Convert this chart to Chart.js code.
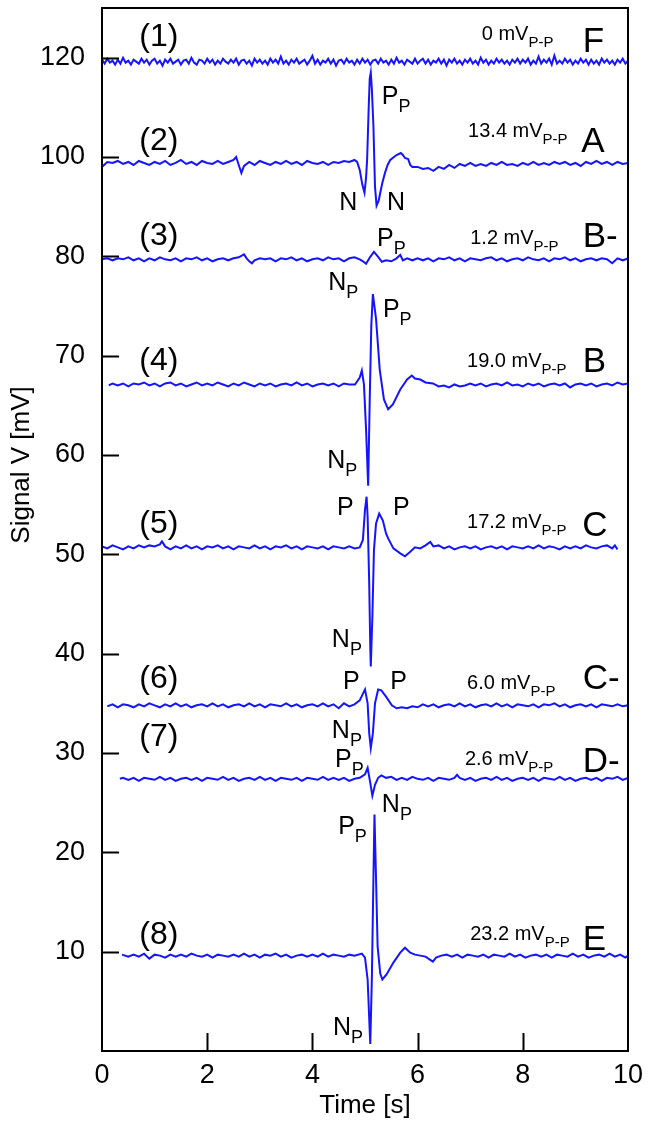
<!DOCTYPE html>
<html>
<head>
<meta charset="utf-8">
<script src="https://cdn.jsdelivr.net/npm/chart.js@4.4.1/dist/chart.umd.min.js"></script>
<style>
  html, body { margin: 0; padding: 0; background: #fff; }
  #wrap { width: 650px; height: 1131px; }
</style>
</head>
<body>
<div id="wrap"><canvas id="chart" width="650" height="1131"></canvas></div>
<script>
// y axis: stacked traces, ticks evenly spaced but labelled like the original figure
const tickPos = [10, 20, 30, 40, 50, 60, 70, 80, 90, 100];
const tickLabels = ['10', '20', '30', '40', '50', '60', '70', '80', '100', '120'];

// display offset of each trace (mV on the stacked axis)
const offsets = [99.6, 89.4, 79.7, 67.1, 50.7, 34.8, 27.4, 9.6];

// signal of each trace relative to its baseline: [time s, mV]
const trace1 = [[0,.2],[.05,-.2],[.1,.3],[.15,-.1],[.2,.1],[.25,-.3],[.3,.2],[.35,-.2],[.4,.4],[.45,-.1],[.5,.1],[.55,-.3],[.6,.2],[.65,0],[.7,-.2],[.75,.3],[.8,-.1],[.85,.2],[.9,-.3],[.95,.1],
[1,.3],[1.05,-.2],[1.1,.1],[1.15,-.4],[1.2,.2],[1.25,-.1],[1.3,.3],[1.35,-.2],[1.4,0],[1.45,.2],[1.5,-.3],[1.55,.1],[1.6,.2],[1.65,-.2],[1.7,.4],[1.75,-.1],[1.8,-.3],[1.85,.2],[1.9,.1],[1.95,-.2],
[2,.3],[2.05,-.1],[2.1,.2],[2.15,-.3],[2.2,.1],[2.25,-.2],[2.3,.3],[2.35,0],[2.4,-.2],[2.45,.2],[2.5,-.1],[2.55,.3],[2.6,-.3],[2.65,.1],[2.7,.2],[2.75,-.2],[2.8,.1],[2.85,-.4],[2.9,.3],[2.95,-.1],
[3,.2],[3.05,-.2],[3.1,.1],[3.15,-.3],[3.2,.3],[3.25,-.1],[3.3,.2],[3.35,-.2],[3.4,.5],[3.45,-.2],[3.5,.1],[3.55,-.3],[3.6,.2],[3.65,-.1],[3.7,.3],[3.75,-.2],[3.8,0],[3.85,.2],[3.9,-.3],[3.95,.1],
[4,.6],[4.05,-.2],[4.1,.2],[4.15,-.3],[4.2,.1],[4.25,-.1],[4.3,.3],[4.35,-.2],[4.4,.2],[4.45,-.4],[4.5,.1],[4.55,.2],[4.6,-.2],[4.65,.3],[4.7,-.1],[4.75,.1],[4.8,-.3],[4.85,.2],[4.9,-.2],[4.95,.3],
[5,-.1],[5.05,.2],[5.1,-.3],[5.15,.1],[5.2,.2],[5.25,-.2],[5.3,.3],[5.35,-.1],[5.4,.1],[5.45,-.3],[5.5,.2],[5.55,-.2],[5.6,.4],[5.65,-.1],[5.7,.1],[5.75,-.3],[5.8,.2],[5.85,0],[5.9,-.2],[5.95,.3],
[6,-.2],[6.05,.1],[6.1,.3],[6.15,-.2],[6.2,.2],[6.25,-.3],[6.3,.1],[6.35,-.1],[6.4,.3],[6.45,-.2],[6.5,.2],[6.55,-.4],[6.6,.2],[6.65,-.1],[6.7,.3],[6.75,-.2],[6.8,.1],[6.85,-.3],[6.9,.2],[6.95,-.1],
[7,.3],[7.05,-.2],[7.1,.1],[7.15,-.3],[7.2,.4],[7.25,-.1],[7.3,.2],[7.35,-.3],[7.4,.1],[7.45,-.2],[7.5,.3],[7.55,-.1],[7.6,.2],[7.65,-.2],[7.7,.1],[7.75,-.3],[7.8,.2],[7.85,-.1],[7.9,.3],[7.95,-.2],
[8,.2],[8.05,-.1],[8.1,.3],[8.15,-.3],[8.2,.1],[8.25,-.2],[8.3,.5],[8.35,-.2],[8.4,.2],[8.45,-.1],[8.5,.3],[8.55,-.3],[8.6,.6],[8.65,-.2],[8.7,.1],[8.75,-.2],[8.8,.3],[8.85,-.1],[8.9,.2],[8.95,-.3],
[9,.1],[9.05,-.2],[9.1,.3],[9.15,-.1],[9.2,.2],[9.25,-.3],[9.3,.2],[9.35,-.2],[9.4,.1],[9.45,-.3],[9.5,.3],[9.55,-.1],[9.6,.2],[9.65,-.2],[9.7,.1],[9.75,-.3],[9.8,.2],[9.85,-.1],[9.9,.3],[9.95,-.2],[10,.1]];
const trace2 = [[0,-.4],[.1,.1],[.2,0],[.3,.2],[.4,-.1],[.5,.1],[.6,-.2],[.7,.2],[.8,0],[.9,-.2],[1,.1],[1.1,-.1],[1.2,.2],[1.3,-.2],[1.4,0],[1.5,.3],[1.6,-.1],[1.7,.1],[1.8,-.2],[1.9,.2],[2,0],[2.1,-.1],[2.2,.2],[2.3,-.1],[2.4,.1],[2.5,.3],[2.55,.6],[2.6,-.2],[2.65,-1.0],[2.7,-.3],[2.8,.1],[2.9,-.2],[3,.2],[3.1,0],[3.2,-.2],[3.3,.1],[3.4,-.1],[3.5,.2],[3.6,-.1],[3.7,.1],[3.8,-.2],[3.9,.2],[4,0],[4.1,-.1],[4.2,.1],[4.3,-.2],[4.4,.1],[4.5,0],[4.6,.2],[4.7,.1],[4.8,.3],[4.85,.1],[4.9,-.7],[4.95,-2.2],[4.99,-3.0],[5.02,-1.5],[5.04,.3],[5.07,5.5],[5.09,8.5],[5.11,9.1],[5.13,7.5],[5.16,3.7],[5.19,-2.4],[5.22,-4.3],[5.26,-3.8],[5.29,-3.0],[5.33,-2.0],[5.38,-1.0],[5.43,-.2],[5.48,.3],[5.55,.6],[5.6,.8],[5.68,1.0],[5.72,.8],[5.76,.5],[5.82,.4],[5.86,-.2],[5.9,-.4],[6,-.4],[6.1,-.6],[6.2,-.5],[6.3,-.8],[6.4,-.4],[6.5,-.6],[6.6,-.2],[6.7,-.5],[6.8,-.1],[6.9,-.3],[7,0],[7.1,-.3],[7.2,-.1],[7.3,-.3],[7.4,0],[7.5,-.2],[7.6,.1],[7.7,-.2],[7.8,-.1],[7.9,-.3],[8,0],[8.1,-.2],[8.2,.1],[8.3,-.2],[8.4,0],[8.5,-.2],[8.6,.1],[8.7,-.1],[8.8,.1],[8.9,-.2],[9,0],[9.1,-.3],[9.2,.1],[9.3,-.1],[9.4,.2],[9.5,-.1],[9.6,.1],[9.7,-.2],[9.8,.1],[9.9,-.1],[10,0]];
const trace3 = [[0,0],[.1,.1],[.2,-.1],[.3,.1],[.4,0],[.5,.2],[.6,-.1],[.7,.1],[.8,-.2],[.9,.1],[1,-.1],[1.1,.2],[1.2,0],[1.3,-.1],[1.4,.1],[1.5,-.2],[1.6,.1],[1.7,0],[1.8,.2],[1.9,-.1],[2,.1],[2.1,-.2],[2.2,0],[2.3,.1],[2.4,-.1],[2.5,.1],[2.6,.2],[2.7,.5],[2.75,.1],[2.8,-.2],[2.85,-.4],[2.9,-.1],[3,.1],[3.1,0],[3.2,.1],[3.3,-.2],[3.4,.1],[3.5,0],[3.6,.2],[3.7,-.1],[3.8,.1],[3.9,-.2],[4,0],[4.1,.1],[4.2,-.1],[4.3,.2],[4.4,0],[4.5,.1],[4.6,-.2],[4.7,.1],[4.8,.2],[4.9,0],[4.96,-.2],[5.02,-.45],[5.1,.25],[5.17,.75],[5.25,.25],[5.32,-.25],[5.4,-.1],[5.5,-.2],[5.6,.1],[5.67,.45],[5.72,-.1],[5.8,.1],[5.9,-.1],[6,.1],[6.1,-.1],[6.2,.1],[6.3,-.2],[6.4,.1],[6.5,0],[6.6,.2],[6.7,-.1],[6.8,.1],[6.9,-.2],[7,.1],[7.1,0],[7.2,-.1],[7.3,.1],[7.4,.2],[7.5,-.1],[7.6,.1],[7.7,-.2],[7.8,0],[7.9,.1],[8,-.1],[8.1,.2],[8.2,0],[8.3,-.1],[8.4,.1],[8.5,-.2],[8.6,.1],[8.7,0],[8.8,.2],[8.9,-.1],[9,.1],[9.1,-.2],[9.2,0],[9.3,.1],[9.4,-.1],[9.5,.1],[9.6,0],[9.7,-.4],[9.8,.1],[9.9,-.1],[10,.1]];
const trace4 = [[.13,-.1],[.2,.1],[.3,-.1],[.4,.1],[.5,-.2],[.6,.1],[.7,0],[.8,.2],[.9,-.1],[1,.1],[1.1,-.2],[1.2,.1],[1.3,.2],[1.4,-.1],[1.5,.1],[1.6,-.2],[1.7,0],[1.8,.2],[1.9,-.1],[2,.1],[2.1,-.1],[2.2,.2],[2.3,0],[2.4,-.2],[2.5,.1],[2.6,-.1],[2.7,.2],[2.8,0],[2.9,-.2],[3,.1],[3.1,-.1],[3.2,.1],[3.3,-.2],[3.4,0],[3.5,.1],[3.6,-.1],[3.7,.2],[3.8,-.1],[3.9,.1],[4,-.2],[4.1,0],[4.2,.1],[4.3,-.1],[4.4,.1],[4.5,-.2],[4.6,.1],[4.7,0],[4.81,0],[4.9,.7],[4.94,1.4],[4.98,0],[5.02,-4.5],[5.06,-10.2],[5.09,-1.5],[5.12,6],[5.15,9.1],[5.21,6.6],[5.28,1.5],[5.36,-1.5],[5.44,-2.5],[5.53,-2.0],[5.67,-.5],[5.8,.5],[5.89,.9],[5.95,.6],[6.05,.5],[6.15,.2],[6.29,.1],[6.4,-.2],[6.5,-.1],[6.6,-.3],[6.7,0],[6.8,-.2],[6.9,-.1],[7,.1],[7.1,-.1],[7.2,.1],[7.3,-.2],[7.4,0],[7.5,.1],[7.6,-.1],[7.7,.2],[7.8,-.1],[7.9,0],[8,-.2],[8.1,.1],[8.2,-.1],[8.3,.1],[8.4,-.2],[8.5,0],[8.6,.1],[8.7,-.1],[8.8,.1],[8.9,-.3],[9,0],[9.1,.1],[9.2,-.1],[9.3,.1],[9.4,-.2],[9.5,0],[9.6,.1],[9.7,-.1],[9.8,.2],[9.9,0],[10,.1]];
const trace5 = [[0,.1],[.1,-.1],[.2,.2],[.3,0],[.4,-.2],[.5,.1],[.6,-.1],[.7,.2],[.8,0],[.9,.2],[1,.1],[1.1,.3],[1.14,.6],[1.2,.1],[1.3,-.2],[1.4,.1],[1.5,-.1],[1.6,.2],[1.7,-.1],[1.8,.1],[1.9,-.2],[2,.1],[2.1,0],[2.2,.2],[2.3,-.1],[2.4,.1],[2.5,-.2],[2.6,.1],[2.7,0],[2.8,-.1],[2.9,.2],[3,-.1],[3.1,.1],[3.2,-.2],[3.3,.1],[3.4,0],[3.5,.2],[3.6,-.1],[3.7,.1],[3.8,-.2],[3.9,.1],[4,0],[4.1,-.1],[4.2,.1],[4.3,-.2],[4.4,.1],[4.5,0],[4.6,-.1],[4.7,.1],[4.8,-.1],[4.9,0],[4.96,.75],[5,3.8],[5.03,5.1],[5.05,3.1],[5.08,-3.6],[5.1,-10],[5.11,-12],[5.14,-7],[5.17,-.3],[5.21,2.4],[5.27,3.4],[5.34,2.7],[5.4,1.4],[5.44,.9],[5.54,-.1],[5.67,-.6],[5.76,-.9],[5.86,-.45],[5.95,0],[6.05,-.1],[6.15,.2],[6.24,.55],[6.3,.1],[6.4,.2],[6.5,-.1],[6.6,.1],[6.7,-.2],[6.8,0],[6.9,.1],[7,-.1],[7.1,.1],[7.2,-.2],[7.3,0],[7.4,.1],[7.5,-.1],[7.6,.1],[7.7,-.2],[7.8,.1],[7.9,0],[8,-.1],[8.1,.1],[8.2,-.1],[8.3,.2],[8.4,-.1],[8.5,.1],[8.6,0],[8.7,-.2],[8.8,.1],[8.9,-.1],[9,.1],[9.1,-.1],[9.2,.2],[9.3,0],[9.4,-.1],[9.5,.1],[9.6,.2],[9.7,-.1],[9.75,.2],[9.8,-.2]];
const trace6 = [[.1,-.1],[.2,.1],[.3,-.2],[.4,.1],[.5,0],[.6,-.2],[.7,.1],[.8,-.1],[.9,.2],[1,0],[1.1,-.2],[1.2,.1],[1.3,-.1],[1.4,.2],[1.5,-.1],[1.6,.1],[1.7,-.2],[1.8,0],[1.9,.1],[2,-.1],[2.1,.2],[2.2,-.1],[2.3,.1],[2.4,-.2],[2.5,0],[2.6,.1],[2.7,-.1],[2.8,.2],[2.9,-.1],[3,.1],[3.1,-.2],[3.2,.1],[3.3,0],[3.4,-.1],[3.5,.2],[3.6,-.1],[3.7,.1],[3.8,-.2],[3.9,0],[4,.1],[4.1,-.1],[4.2,.2],[4.3,-.1],[4.4,.1],[4.5,-.3],[4.6,.2],[4.7,-.1],[4.8,.1],[4.9,.5],[5,1.6],[5.05,.2],[5.08,-2.8],[5.11,-4.3],[5.15,-2.8],[5.19,.2],[5.25,1.6],[5.31,1.5],[5.41,.8],[5.51,0],[5.6,-.3],[5.7,-.2],[5.8,-.3],[5.9,-.1],[6,-.2],[6.1,.1],[6.2,-.1],[6.3,.1],[6.4,-.2],[6.5,0],[6.6,.1],[6.7,-.1],[6.8,.2],[6.9,-.1],[7,.1],[7.1,-.2],[7.2,0],[7.3,.1],[7.4,-.1],[7.5,.2],[7.6,-.1],[7.7,.1],[7.8,-.2],[7.9,.1],[8,0],[8.1,-.1],[8.2,.1],[8.3,-.2],[8.4,.1],[8.5,0],[8.6,.2],[8.7,-.1],[8.8,.1],[8.9,-.2],[9,0],[9.1,.1],[9.2,-.1],[9.3,.1],[9.4,-.2],[9.5,.1],[9.6,0],[9.7,-.1],[9.8,.1],[9.9,-.1],[10,0]];
const trace7 = [[.34,0],[.4,.1],[.5,-.1],[.6,.1],[.7,-.2],[.8,.1],[.9,0],[1,-.1],[1.1,.2],[1.2,-.1],[1.3,.1],[1.4,-.2],[1.5,0],[1.6,.1],[1.7,-.1],[1.8,.1],[1.9,-.2],[2,.1],[2.1,0],[2.2,-.1],[2.3,.2],[2.4,-.1],[2.5,.1],[2.6,-.2],[2.7,0],[2.8,.1],[2.9,-.1],[3,.2],[3.1,-.1],[3.2,.1],[3.3,-.2],[3.4,.1],[3.5,0],[3.6,-.1],[3.7,.1],[3.8,-.2],[3.9,.1],[4,0],[4.1,-.1],[4.2,.2],[4.3,-.1],[4.4,.1],[4.5,-.1],[4.6,.1],[4.7,-.2],[4.8,0],[4.9,.1],[5,.45],[5.05,1.1],[5.1,-.4],[5.14,-1.7],[5.19,-.6],[5.25,.1],[5.31,.35],[5.4,.1],[5.5,.2],[5.6,-.1],[5.7,.1],[5.8,-.1],[5.9,.2],[6,0],[6.1,-.1],[6.2,.1],[6.3,-.2],[6.4,.1],[6.5,0],[6.6,-.1],[6.7,.1],[6.75,.4],[6.8,.1],[6.9,-.1],[7,.1],[7.1,-.2],[7.2,0],[7.3,.1],[7.4,-.1],[7.5,.2],[7.6,-.1],[7.7,.1],[7.8,-.2],[7.9,0],[8,.1],[8.1,-.1],[8.2,.1],[8.3,-.2],[8.4,.1],[8.5,0],[8.6,-.1],[8.7,.2],[8.8,-.1],[8.9,.1],[9,-.2],[9.1,0],[9.2,.1],[9.3,-.1],[9.4,.1],[9.5,-.2],[9.6,.1],[9.7,0],[9.8,.2],[9.9,-.1],[10,.1]];
const trace8 = [[.38,.1],[.5,-.1],[.6,.1],[.7,-.1],[.8,.2],[.9,-.3],[1,.1],[1.1,0],[1.2,-.2],[1.3,.1],[1.4,-.1],[1.5,.1],[1.6,-.1],[1.7,.2],[1.8,0],[1.9,-.1],[2,.1],[2.1,-.2],[2.2,.1],[2.3,0],[2.4,-.1],[2.5,.1],[2.6,-.1],[2.7,.2],[2.8,-.1],[2.9,.1],[3,-.2],[3.1,.1],[3.2,0],[3.3,.2],[3.4,-.1],[3.5,.1],[3.6,-.2],[3.7,0],[3.8,.1],[3.9,-.1],[4,.1],[4.1,-.1],[4.2,.2],[4.3,-.1],[4.4,.1],[4.5,0],[4.6,-.1],[4.7,.1],[4.8,0],[4.94,.2],[5,-.2],[5.05,-2.4],[5.1,-8.9],[5.13,-2.4],[5.16,7.7],[5.18,14.2],[5.21,7.7],[5.24,.9],[5.29,-1.8],[5.33,-2.4],[5.41,-1.9],[5.54,-.7],[5.67,.3],[5.76,.8],[5.86,.3],[5.95,.1],[6.05,0],[6.15,-.1],[6.29,-.6],[6.35,-.2],[6.45,0],[6.55,.1],[6.65,-.1],[6.75,.1],[6.85,-.2],[6.95,.1],[7.05,0],[7.15,-.1],[7.25,.1],[7.35,-.2],[7.45,.1],[7.55,0],[7.65,-.1],[7.75,.2],[7.85,-.1],[7.95,.1],[8.05,-.2],[8.15,0],[8.25,.1],[8.35,-.1],[8.45,.1],[8.55,-.2],[8.65,.1],[8.75,0],[8.85,-.1],[8.95,.2],[9.05,-.1],[9.15,.1],[9.25,-.2],[9.35,0],[9.45,.1],[9.55,-.1],[9.65,.2],[9.75,-.1],[9.85,.1],[9.95,-.2],[10,0]];
const traces = [trace1, trace2, trace3, trace4, trace5, trace6, trace7, trace8];

// annotations, anchored in data units [t, y]
const traceNames = ['(1)', '(2)', '(3)', '(4)', '(5)', '(6)', '(7)', '(8)'];
const traceNamePos = [[1.08,102.1],[1.08,91.6],[1.08,82.0],[1.08,69.4],[1.08,53.0],[1.08,37.4],[1.08,31.6],[1.08,11.7]];
const ppValues = ['0', '13.4', '1.2', '19.0', '17.2', '6.0', '2.6', '23.2'];
const ppPos = [[7.22,101.8],[6.96,92.0],[7.0,81.2],[6.94,68.9],[6.94,52.7],[6.94,36.4],[6.9,28.8],[7.0,11.2]];
const classNames = ['F', 'A', 'B-', 'B', 'C', 'C-', 'D-', 'E'];
const classPos = [[9.14,100.6],[9.11,90.5],[9.14,80.9],[9.14,68.4],[9.13,51.8],[9.14,36.4],[9.14,28.1],[9.14,10.2]];
const peakLabels = [
  ['P','P',5.32,95.3], ['N','',4.51,84.7], ['N','',5.42,84.7],
  ['P','P',5.23,81.0], ['N','P',4.30,76.6],
  ['P','P',5.34,73.9], ['N','P',4.28,58.7],
  ['P','',4.47,54.0], ['P','',5.53,54.0], ['N','P',4.37,40.7],
  ['P','',4.58,36.4], ['P','',5.48,36.4], ['N','P',4.37,31.5],
  ['P','P',4.43,28.6], ['N','P',5.32,24.1],
  ['P','P',4.49,21.8], ['N','P',4.39,1.6]
];

const FONT = '"Liberation Sans", Arial, sans-serif';
const BLUE = '#1414ff';

function textWithSub(ctx, x, y, main, sub, size, subSize, dy) {
  ctx.font = size + 'px ' + FONT;
  ctx.fillText(main, x, y);
  const w = ctx.measureText(main).width;
  if (sub) {
    ctx.font = subSize + 'px ' + FONT;
    ctx.fillText(sub, x + w, y + dy);
  }
}

const framePlugin = {
  id: 'frame',
  afterDraw(chart) {
    const { ctx, chartArea: a, scales: { x, y } } = chart;
    ctx.save();
    ctx.strokeStyle = '#000';
    ctx.lineWidth = 2;
    ctx.strokeRect(a.left, a.top, a.right - a.left, a.bottom - a.top);
    // inward ticks
    ctx.beginPath();
    tickPos.forEach(v => {
      const py = Math.round(y.getPixelForValue(v)) + 0.5;
      ctx.moveTo(a.left, py); ctx.lineTo(a.left + 17, py);
    });
    [2, 4, 6, 8].forEach(v => {
      const px = Math.round(x.getPixelForValue(v)) + 0.5;
      ctx.moveTo(px, a.bottom); ctx.lineTo(px, a.bottom - 18);
    });
    ctx.stroke();

    ctx.fillStyle = '#000';
    // y axis title
    ctx.save();
    ctx.translate(22, y.getPixelForValue(59));
    ctx.rotate(-Math.PI / 2);
    ctx.textAlign = 'center';
    ctx.textBaseline = 'middle';
    ctx.font = '26px ' + FONT;
    ctx.fillText('Signal V [mV]', 0, 0);
    ctx.restore();

    // trace numbers
    ctx.textAlign = 'center';
    ctx.textBaseline = 'middle';
    ctx.font = '32px ' + FONT;
    traceNames.forEach((s, i) => {
      ctx.fillText(s, x.getPixelForValue(traceNamePos[i][0]), y.getPixelForValue(traceNamePos[i][1]));
    });

    ctx.textAlign = 'left';
    ctx.textBaseline = 'alphabetic';
    ppValues.forEach((s, i) => {
      textWithSub(ctx, x.getPixelForValue(ppPos[i][0]), y.getPixelForValue(ppPos[i][1]), s + ' mV', 'P-P', 20, 15, 7);
    });
    ctx.font = '35px ' + FONT;
    classNames.forEach((s, i) => {
      ctx.fillText(s, x.getPixelForValue(classPos[i][0]), y.getPixelForValue(classPos[i][1]));
    });
    peakLabels.forEach(([m, sub, t, v]) => {
      textWithSub(ctx, x.getPixelForValue(t), y.getPixelForValue(v), m, sub, 25, 18, 8);
    });
    ctx.restore();
  }
};

new Chart(document.getElementById('chart'), {
  type: 'line',
  data: {
    datasets: traces.map((tr, i) => ({
      data: tr.map(([t, v]) => ({ x: t, y: v + offsets[i] })),
      borderColor: BLUE,
      borderWidth: 2,
      pointRadius: 0,
      tension: 0,
      fill: false
    }))
  },
  options: {
    responsive: false,
    devicePixelRatio: 1,
    animation: false,
    layout: { padding: { top: 8, right: 22, left: 0, bottom: 0 } },
    plugins: { legend: { display: false }, tooltip: { enabled: false } },
    scales: {
      x: {
        type: 'linear', min: 0, max: 10,
        grid: { display: false, drawTicks: false },
        border: { display: false },
        ticks: { stepSize: 2, color: '#000', font: { family: FONT, size: 27 }, padding: 8, maxRotation: 0 },
        title: { display: true, text: 'Time [s]', color: '#000', font: { family: FONT, size: 26 }, padding: { top: 0, bottom: 10 } },
        afterFit(s) { s.height = 80; s.paddingLeft = 0; s.paddingRight = 0; }
      },
      y: {
        type: 'linear', min: 0, max: 105,
        afterBuildTicks(s) { s.ticks = tickPos.map(v => ({ value: v })); },
        grid: { display: false, drawTicks: false },
        border: { display: false },
        ticks: {
          color: '#000', font: { family: FONT, size: 27 }, padding: 17,
          callback: (v, i) => tickLabels[i]
        },
        afterFit(s) { s.width = 102; s.paddingTop = 0; s.paddingBottom = 0; }
      }
    }
  },
  plugins: [framePlugin]
});
</script>
</body>
</html>
